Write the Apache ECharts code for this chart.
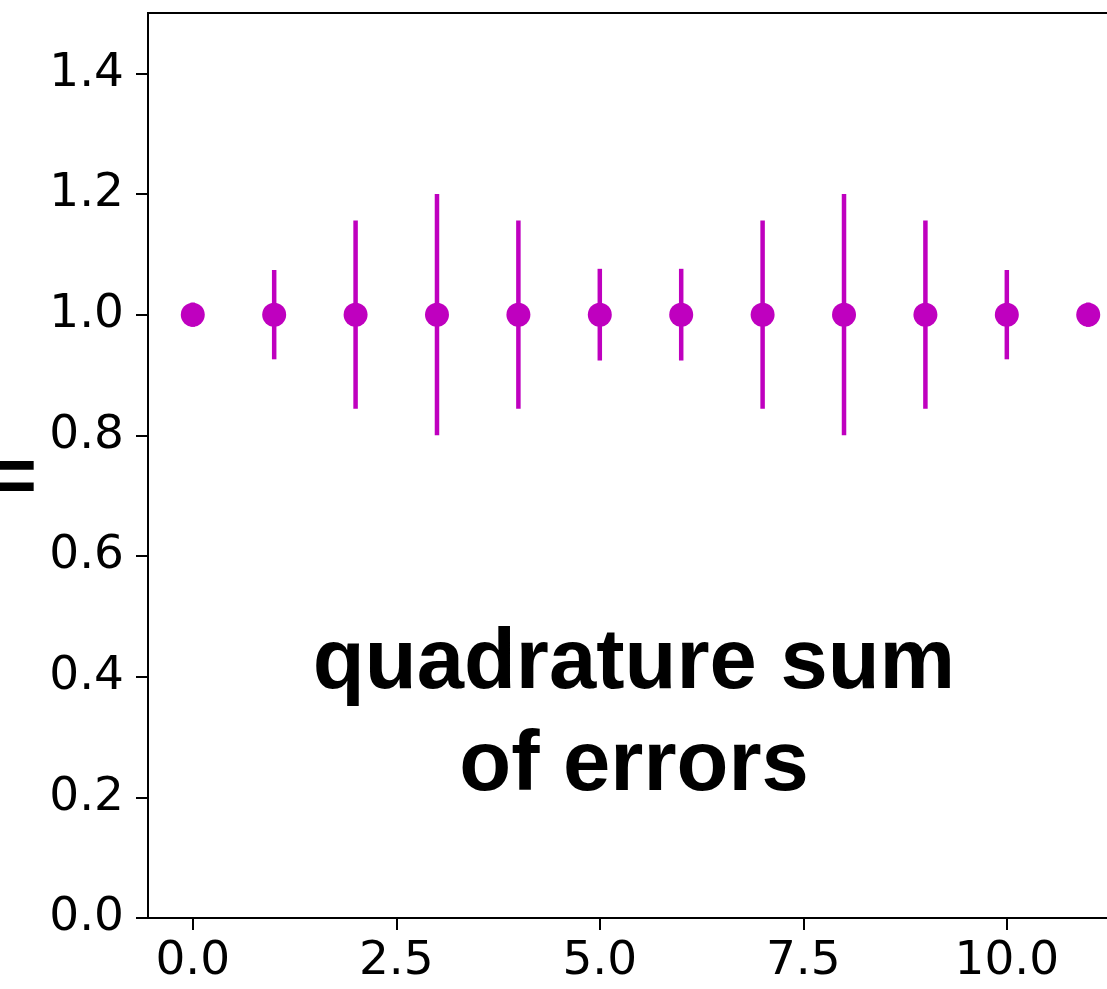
<!DOCTYPE html>
<html>
<head>
<meta charset="utf-8">
<script src="https://cdn.jsdelivr.net/npm/echarts@6/dist/echarts.min.js"></script>
<style>html,body{margin:0;padding:0;background:#fff;}#c{width:1107px;height:989px;}</style>
</head>
<body>
<div id="c"></div>
<script>
const xValues = [0, 1, 2, 3, 4, 5, 6, 7, 8, 9, 10, 11];
const yValues = [1, 1, 1, 1, 1, 1, 1, 1, 1, 1, 1, 1];
const yErrors = [0.02, 0.074, 0.156, 0.2, 0.156, 0.076, 0.076, 0.156, 0.2, 0.156, 0.074, 0.02];
const xTicks = [0, 2.5, 5, 7.5, 10];
const yTicks = [0, 0.2, 0.4, 0.6, 0.8, 1.0, 1.2, 1.4];
const annotation = 'quadrature sum\nof errors';
const yLabelFragment = '=';

const color = '#bf00bf';
const chart = echarts.init(document.getElementById('c'), null, {renderer: 'canvas'});
const pts = xValues.map((x, i) => [x, yValues[i]]);
const errData = xValues.map((x, i) => [x, yValues[i] - yErrors[i], yValues[i] + yErrors[i]]);
const axisFont = {fontFamily: 'DejaVu Sans', fontSize: 47, color: '#000'};
chart.setOption({
  animation: false,
  backgroundColor: '#fff',
  grid: {left: 148, top: 13, right: -26, bottom: 71, containLabel: false, outerBoundsMode: 'none', show: false},
  xAxis: {
    type: 'value', min: -0.55, max: 11.55,
    axisLine: {show: true, onZero: false, lineStyle: {color: '#000', width: 2}},
    axisTick: {show: true, inside: false, length: 12, lineStyle: {color: '#000', width: 2}, customValues: xTicks},
    axisLabel: Object.assign({margin: 20, customValues: xTicks, formatter: v => v.toFixed(1)}, axisFont),
    splitLine: {show: false}
  },
  yAxis: {
    type: 'value', min: 0, max: 1.5,
    axisLine: {show: true, onZero: false, lineStyle: {color: '#000', width: 2}},
    axisTick: {show: true, inside: false, length: 12, lineStyle: {color: '#000', width: 2}, customValues: yTicks},
    axisLabel: Object.assign({margin: 24, customValues: yTicks, formatter: v => v.toFixed(1)}, axisFont),
    splitLine: {show: false}
  },
  graphic: [
    {type: 'line', shape: {x1: 147, y1: 13, x2: 1107, y2: 13}, style: {stroke: '#000', lineWidth: 2}, z: 10},
    {type: 'text', x: 634, y: 614, style: {text: annotation, font: 'bold 85px "Liberation Sans"', fill: '#000', align: 'center', verticalAlign: 'top', lineHeight: 102}, z: 10},
    {type: 'text', x: 37, y: 480, style: {text: yLabelFragment, font: 'bold 80px "Liberation Sans"', fill: '#000', align: 'right', verticalAlign: 'middle'}, z: 10}
  ],
  series: [
    {
      type: 'custom',
      data: errData,
      encode: {x: 0, y: [1, 2]},
      renderItem: function (params, api) {
        const p1 = api.coord([api.value(0), api.value(1)]);
        const p2 = api.coord([api.value(0), api.value(2)]);
        return {type: 'line', shape: {x1: p1[0], y1: p1[1], x2: p2[0], y2: p2[1]}, style: {stroke: color, lineWidth: 4.5}};
      },
      z: 2
    },
    {
      type: 'scatter',
      data: pts,
      symbol: 'circle',
      symbolSize: 24,
      itemStyle: {color: color, opacity: 1},
      z: 3
    }
  ]
});
</script>
</body>
</html>
